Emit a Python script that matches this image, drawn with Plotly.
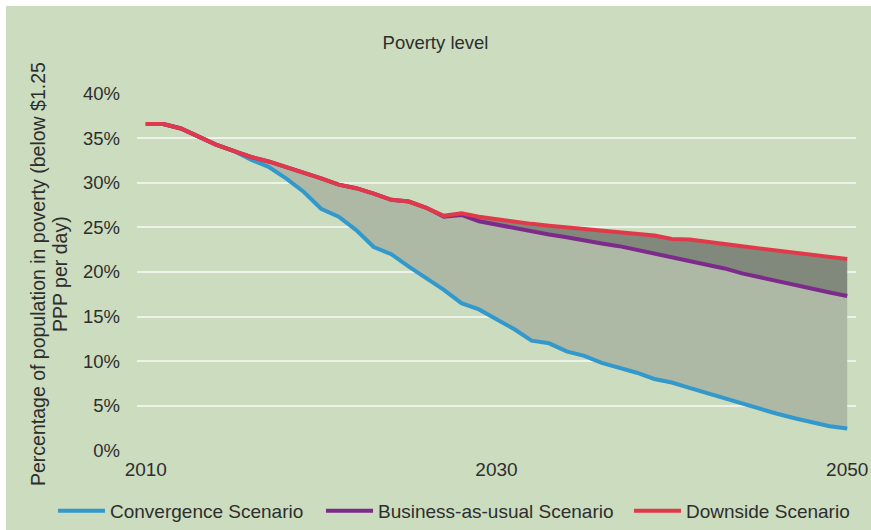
import plotly.graph_objects as go

years = list(range(2010, 2051))

convergence = [36.6, 36.6, 36.1, 35.2, 34.3, 33.6, 32.6, 31.8, 30.5, 29.0,
               27.1, 26.2, 24.7, 22.8, 22.0, 20.6, 19.3, 18.0, 16.5, 15.8,
               14.7, 13.6, 12.3, 12.0, 11.1, 10.6, 9.8, 9.3, 8.7, 8.0,
               7.6, 7.0, 6.4, 5.8, 5.25, 4.65, 4.1, 3.6, 3.1, 2.7, 2.45]

business_as_usual = [36.6, 36.6, 36.1, 35.2, 34.3, 33.6, 32.9, 32.4, 31.8, 31.1,
                     30.5, 29.8, 29.4, 28.8, 28.1, 27.9, 27.2, 26.2, 26.4, 25.7,
                     25.3, 25.0, 24.5, 24.2, 23.9, 23.5, 23.2, 22.9, 22.5, 22.1,
                     21.6, 21.3, 20.9, 20.4, 19.85, 19.4, 19.0, 18.55, 18.1, 17.7, 17.3]

downside = [36.6, 36.6, 36.1, 35.2, 34.3, 33.6, 32.9, 32.4, 31.8, 31.1,
            30.5, 29.8, 29.4, 28.8, 28.1, 27.9, 27.2, 26.3, 26.6, 26.2,
            25.9, 25.7, 25.4, 25.2, 25.0, 24.85, 24.7, 24.5, 24.3, 24.1,
            23.7, 23.65, 23.4, 23.1, 22.9, 22.65, 22.4, 22.2, 21.9, 21.7, 21.45]

series_names = ["Convergence Scenario", "Business-as-usual Scenario", "Downside Scenario"]
y_ticks = [0, 5, 10, 15, 20, 25, 30, 35, 40]
y_tick_labels = ["0%", "5%", "10%", "15%", "20%", "25%", "30%", "35%", "40%"]
x_ticks = [2010, 2030, 2050]
x_tick_labels = ["2010", "2030", "2050"]

BG = "#cbdcbf"
LIGHT_FILL = "#adb9a5"
DARK_FILL = "#81897d"
COLORS = ["#3399cc", "#7d2b8b", "#e03a4a"]
FONT = "Liberation Sans, Arial, Helvetica, sans-serif"
TXT = "#2e2e2e"

W, H = 871, 530
ml, mr, mt, mb = 137, 15, 93, 79
pw, ph = W - ml - mr, H - mt - mb

fig = go.Figure()

# shaded bands (no lines)
fig.add_trace(go.Scatter(x=years, y=convergence, mode="lines", line=dict(width=0),
                         showlegend=False, hoverinfo="skip"))
fig.add_trace(go.Scatter(x=years, y=business_as_usual, mode="lines", line=dict(width=0),
                         fill="tonexty", fillcolor=LIGHT_FILL, showlegend=False, hoverinfo="skip"))
fig.add_trace(go.Scatter(x=years, y=downside, mode="lines", line=dict(width=0),
                         fill="tonexty", fillcolor=DARK_FILL, showlegend=False, hoverinfo="skip"))

# lines, each with its own legend box
legend_ids = ["legend", "legend2", "legend3"]
for name, vals, col, lg in zip(series_names, [convergence, business_as_usual, downside], COLORS, legend_ids):
    fig.add_trace(go.Scatter(x=years, y=vals, mode="lines", name=name, legend=lg,
                             line=dict(color=col, width=4)))

legend_left_px = [53, 321, 629]
legend_common = dict(orientation="h", xref="container", yref="container",
                     xanchor="left", yanchor="middle", y=1 - 511 / H,
                     font=dict(size=19, color=TXT), itemwidth=47,
                     bgcolor="rgba(0,0,0,0)", borderwidth=0)

fig.update_layout(
    width=W, height=H,
    margin=dict(l=ml, r=mr, t=mt, b=mb, pad=0, autoexpand=False),
    paper_bgcolor=BG,
    plot_bgcolor="rgba(0,0,0,0)",
    font=dict(family=FONT, size=19, color=TXT),
    title=dict(text="Poverty level", x=0.5, xref="container", xanchor="center",
               y=1 - 43 / H, yref="container", yanchor="middle",
               font=dict(size=18.5, color=TXT)),
    xaxis=dict(range=[2009.5, 2050.5], tickvals=x_ticks, ticktext=x_tick_labels,
               showgrid=False, zeroline=False, showline=False, ticks="",
               automargin=False, tickfont=dict(size=19), ticklabelstandoff=5),
    yaxis=dict(range=[-0.08, 40.08], tickvals=y_ticks, ticktext=y_tick_labels,
               showgrid=True, gridcolor="#eef3ea", gridwidth=1.5,
               zeroline=False, showline=False, ticks="", automargin=False,
               tickfont=dict(size=18.5), ticklabelstandoff=16),
    legend=dict(x=legend_left_px[0] / W, **legend_common),
    legend2=dict(x=legend_left_px[1] / W, **legend_common),
    legend3=dict(x=legend_left_px[2] / W, **legend_common),
    shapes=[
        dict(type="rect", xref="paper", yref="paper", layer="below",
             x0=-ml / pw - 0.05, x1=-(ml - 6) / pw, y0=-mb / ph - 0.1, y1=(H - mb) / ph + 0.1,
             fillcolor="white", line=dict(width=0)),
        dict(type="rect", xref="paper", yref="paper", layer="below",
             x0=-ml / pw - 0.05, x1=(W - ml) / pw + 0.05, y0=(H - mb - 6) / ph, y1=(H - mb) / ph + 0.1,
             fillcolor="white", line=dict(width=0)),
    ],
    annotations=[
        dict(text="Percentage of population in poverty (below $1.25", textangle=-90,
             xref="paper", yref="paper", x=(38 - ml) / pw, y=0.5 - 2 / ph,
             xanchor="center", yanchor="middle", showarrow=False,
             font=dict(size=19.5, color=TXT)),
        dict(text="PPP per day)", textangle=-90,
             xref="paper", yref="paper", x=(60 - ml) / pw, y=0.5 - 2 / ph,
             xanchor="center", yanchor="middle", showarrow=False,
             font=dict(size=19.5, color=TXT)),
    ],
)

fig.write_html("out.html")
